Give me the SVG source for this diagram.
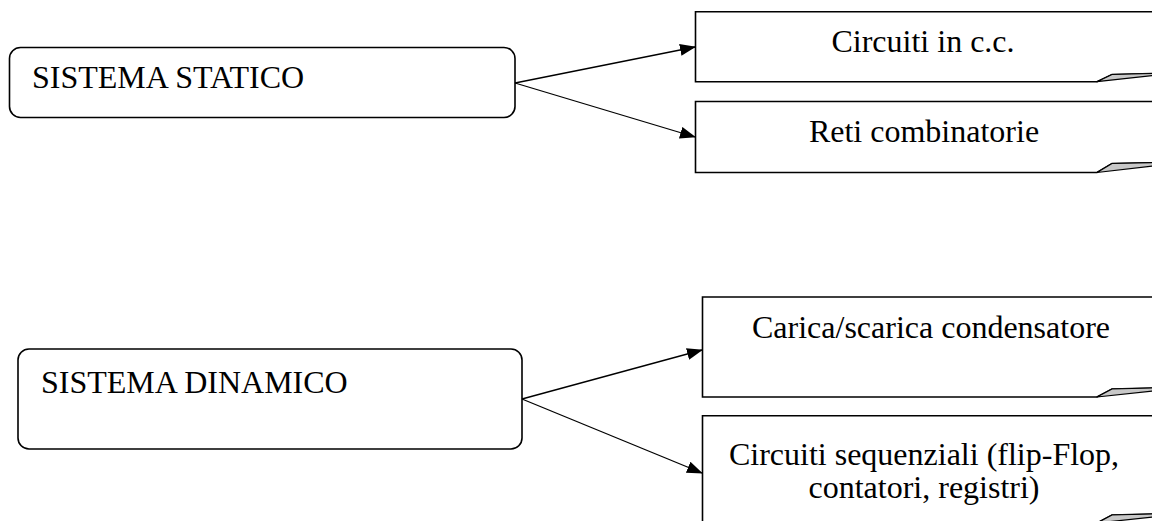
<svg xmlns="http://www.w3.org/2000/svg" width="1152" height="521" viewBox="0 0 1152 521">
<style>
.box{fill:#fff;stroke:#000;stroke-width:1.6}
.fold{fill:#c8c8c8;stroke:#000;stroke-width:1.2;stroke-linejoin:round}
.t{font-family:"Liberation Serif","Times New Roman",serif;font-size:32px;fill:#000}
.m{text-anchor:middle}
.c{stroke:#000;stroke-width:1.3;fill:none}
</style>
<defs>
<marker id="ah" markerWidth="16" markerHeight="12" refX="15" refY="6" orient="auto" markerUnits="userSpaceOnUse">
<path d="M0,0 L16,6 L0,12 Z" fill="#000"/>
</marker>
</defs>
<rect width="1152" height="521" fill="#fff"/>
<g id="statico">
<rect class="box" x="9.5" y="47.5" width="505.5" height="70" rx="11"/>
<text class="t" x="32" y="88">SISTEMA STATICO</text>
</g>
<g id="dinamico">
<rect class="box" x="18" y="349" width="504" height="100" rx="11"/>
<text class="t" x="41" y="393">SISTEMA DINAMICO</text>
</g>
<g id="cc">
<path class="box" d="M1153,11.7 H695.5 V81.7 H1097 L1112,74.5 L1153,73.5"/>
<path class="fold" d="M1097,81.7 L1112,74.5 L1153,73.5 L1153,75.5 Z"/>
<text class="t m" x="923" y="52">Circuiti in c.c.</text>
</g>
<g id="reti">
<path class="box" d="M1153,101.5 H695.5 V172.5 H1097 L1112,163.5 L1153,162.7"/>
<path class="fold" d="M1097,172.5 L1112,163.5 L1153,162.7 L1153,166 Z"/>
<text class="t m" x="924" y="142">Reti combinatorie</text>
</g>
<g id="carica">
<path class="box" d="M1153,297 H702.5 V397 H1097 L1112,389 L1153,388"/>
<path class="fold" d="M1097,397 L1112,389 L1153,388 L1153,391 Z"/>
<text class="t m" x="931" y="338">Carica/scarica condensatore</text>
</g>
<g id="sequenziali">
<path class="box" d="M1153,415.7 H702.5 V523 H1097 L1112,515 L1153,514"/>
<path class="fold" d="M1097,523 L1112,515 L1153,514 L1153,517 Z"/>
<text class="t m" x="924" y="465">Circuiti sequenziali (flip-Flop,</text>
<text class="t m" x="924" y="498">contatori, registri)</text>
</g>
<g id="connectors">
<line class="c" x1="515" y1="83" x2="695" y2="47" marker-end="url(#ah)"/>
<line class="c" x1="515" y1="83" x2="695" y2="137" marker-end="url(#ah)"/>
<line class="c" x1="522" y1="399" x2="702" y2="350" marker-end="url(#ah)"/>
<line class="c" x1="522" y1="399" x2="702" y2="473" marker-end="url(#ah)"/>
</g>
</svg>
